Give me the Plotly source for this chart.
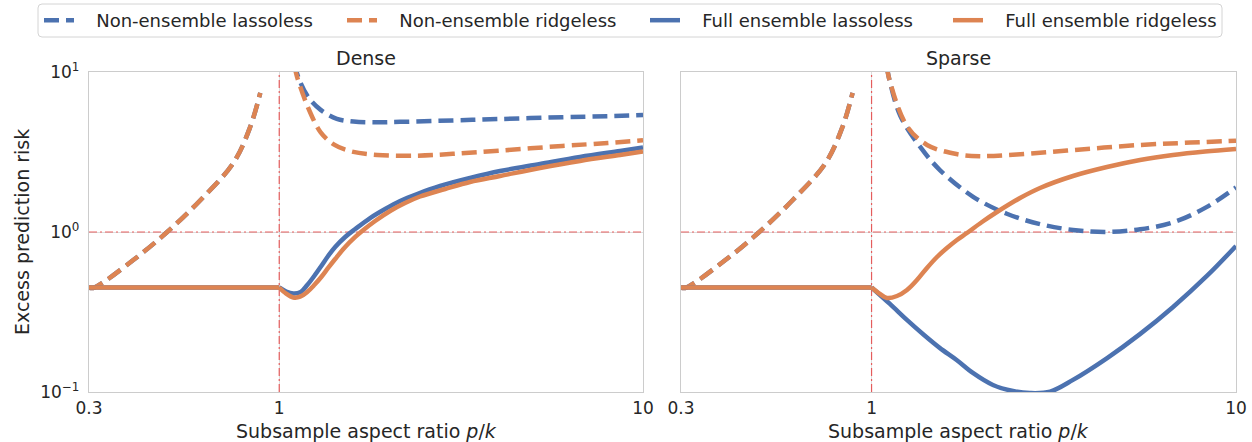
import math
import plotly.graph_objects as go
from plotly.subplots import make_subplots

# ---------------- data ----------------
# underparameterized branch (p/k < 1), identical in both panels
phi_under = [0.3, 0.308, 0.397, 0.492, 0.607, 0.748, 0.832, 0.887]
risk_nonens_under = [0.45, 0.447, 0.668, 1.0, 1.58, 2.7, 4.53, 7.4]
phi_flat = [0.3, 1.0]
risk_flat = [0.45, 0.45]

# Dense panel, p/k > 1
d_nl_phi = [1.1, 1.13, 1.2, 1.3, 1.44, 1.6, 1.8, 2.15, 3.0, 4.0, 6.0, 8.0, 10.0]
d_nl_risk = [11.5, 9.2, 7.0, 5.8, 5.1, 4.9, 4.85, 4.88, 4.98, 5.08, 5.22, 5.3, 5.38]
d_nr_phi = [1.1, 1.12, 1.156, 1.2, 1.3, 1.42, 1.57, 1.86, 2.4, 3.0, 4.0, 6.0, 8.0, 10.0]
d_nr_risk = [11.0, 9.3, 7.5, 6.0, 4.2, 3.5, 3.2, 3.03, 3.0, 3.08, 3.22, 3.45, 3.6, 3.74]
d_fl_phi = [1.0, 1.045, 1.093, 1.142, 1.194, 1.248, 1.305, 1.363, 1.425, 1.518, 1.618,
            1.778, 1.955, 2.15, 2.394, 2.769, 3.347, 4.047, 5.212, 6.713, 8.646, 10.0]
d_fl_risk = [0.45, 0.425, 0.413, 0.42, 0.466, 0.531, 0.613, 0.708, 0.806, 0.931, 1.044,
             1.223, 1.393, 1.563, 1.728, 1.939, 2.175, 2.404, 2.661, 2.944, 3.209, 3.374]
d_fr_phi = [1.0, 1.045, 1.093, 1.142, 1.194, 1.248, 1.305, 1.363, 1.425, 1.518, 1.618,
            1.69, 1.835, 2.018, 2.218, 2.439, 2.859, 3.347, 4.047, 5.212, 6.713, 8.646, 10.0]
d_fr_risk = [0.45, 0.412, 0.39, 0.394, 0.422, 0.466, 0.523, 0.596, 0.678, 0.806, 0.931,
             1.015, 1.172, 1.353, 1.518, 1.667, 1.857, 2.054, 2.239, 2.512, 2.78, 3.03, 3.186]

# Sparse panel, p/k > 1
s_nl_phi = [1.1, 1.12, 1.2, 1.36, 1.54, 1.9, 2.35, 2.9, 3.57, 4.42, 5.46, 6.73, 8.3, 10.0]
s_nl_risk = [11.0, 8.9, 5.3, 3.4, 2.44, 1.66, 1.30, 1.12, 1.03, 1.0, 1.04, 1.15, 1.43, 1.9]
s_nr_phi = [1.1, 1.12, 1.25, 1.42, 1.71, 1.98, 2.5, 3.57, 5.46, 7.5, 10.0]
s_nr_risk = [11.0, 8.9, 4.6, 3.5, 3.07, 2.98, 3.05, 3.25, 3.5, 3.62, 3.72]
s_fl_phi = [1.0, 1.123, 1.25, 1.393, 1.541, 1.715, 1.897, 2.153, 2.444, 2.72, 3.09,
            3.57, 4.43, 5.45, 6.72, 8.32, 10.0]
s_fl_risk = [0.45, 0.355, 0.282, 0.227, 0.188, 0.158, 0.1315, 0.1106, 0.1014, 0.0985, 0.1005,
             0.119, 0.163, 0.23, 0.34, 0.531, 0.818]
s_fr_phi = [1.0, 1.054, 1.102, 1.174, 1.251, 1.332, 1.419, 1.512, 1.61, 1.715, 1.827,
            2.009, 2.208, 2.555, 2.899, 3.571, 4.426, 5.453, 6.714, 8.222, 10.0]
s_fr_risk = [0.45, 0.41, 0.387, 0.398, 0.434, 0.501, 0.596, 0.698, 0.794, 0.891, 0.986,
             1.155, 1.334, 1.631, 1.884, 2.239, 2.547, 2.818, 3.03, 3.186, 3.303]

x_range = [0.3, 10.0]
x_ticks = [0.3, 1, 10]
x_ticktext = ["0.3", "1", "10"]
y_range = [0.1, 10.0]
y_ticks = [0.1, 1, 10]
y_ticktext = ["10<sup>\u22121</sup>", "10<sup>0</sup>", "10<sup>1</sup>"]
ref_level = 1.0
panel_titles = ["Dense", "Sparse"]
names = ["Non-ensemble lassoless", "Non-ensemble ridgeless",
         "Full ensemble lassoless", "Full ensemble ridgeless"]

BLUE = "#4c72b0"
ORANGE = "#dd8452"
REDLINE = "rgba(230,60,60,0.8)"
TXT = "#262626"
FONT = "DejaVu Sans"
DASH = "15px,7px"
LW = 4.5
SMOOTH = 1.0

fig = make_subplots(rows=1, cols=2, shared_yaxes=True)

panels = [
    (d_nl_phi, d_nl_risk, d_nr_phi, d_nr_risk, d_fl_phi, d_fl_risk, d_fr_phi, d_fr_risk),
    (s_nl_phi, s_nl_risk, s_nr_phi, s_nr_risk, s_fl_phi, s_fl_risk, s_fr_phi, s_fr_risk),
]

red_dash = "8px,3px,2px,3px"
for col, p in enumerate(panels, start=1):
    nl_x, nl_y, nr_x, nr_y, fl_x, fl_y, fr_x, fr_y = p
    show = col == 1
    # reference lines (drawn first so the curves lie above them)
    fig.add_trace(go.Scatter(x=x_range, y=[ref_level, ref_level], mode="lines",
                             showlegend=False, hoverinfo="skip",
                             line=dict(color=REDLINE, width=1.2, dash=red_dash)),
                  row=1, col=col)
    fig.add_trace(go.Scatter(x=[ref_level, ref_level], y=y_range, mode="lines",
                             showlegend=False, hoverinfo="skip",
                             line=dict(color=REDLINE, width=1.2, dash=red_dash)),
                  row=1, col=col)
    specs = [
        (phi_under, risk_nonens_under, nl_x, nl_y, BLUE, DASH, names[0]),
        (phi_under, risk_nonens_under, nr_x, nr_y, ORANGE, DASH, names[1]),
        (phi_flat, risk_flat, fl_x, fl_y, BLUE, "solid", names[2]),
        (phi_flat, risk_flat, fr_x, fr_y, ORANGE, "solid", names[3]),
    ]
    for ux, uy, xs, ys, c, dash, nm in specs:
        fig.add_trace(go.Scatter(
            x=ux, y=uy, mode="lines", name="\u00a0\u00a0\u00a0" + nm,
            showlegend=show, legendgroup=nm,
            line=dict(color=c, width=LW, dash=dash, shape="spline", smoothing=SMOOTH),
        ), row=1, col=col)
        fig.add_trace(go.Scatter(
            x=xs, y=ys, mode="lines", name=nm, showlegend=False, legendgroup=nm,
            line=dict(color=c, width=LW, dash=dash, shape="spline", smoothing=SMOOTH),
        ), row=1, col=col)

L, R, T, B = 89, 16, 72, 50
W, H = 1252, 442
pw = W - L - R
ph = H - T - B
d1 = (643 - L) / pw
d2 = (681 - L) / pw


def px_x(px):
    return (px - L) / pw


def px_y(py):
    return (H - B - py) / ph


fig.update_xaxes(
    type="log", range=[math.log10(x_range[0]), math.log10(x_range[1])],
    tickvals=x_ticks, ticktext=x_ticktext,
    showgrid=True, gridcolor="#dddddd", gridwidth=1, zeroline=False,
    showline=True, linecolor="#cccccc", linewidth=1.3, mirror=True,
    ticks="", tickfont=dict(family=FONT, size=17, color=TXT),
)
fig.update_layout(xaxis=dict(domain=[0, d1]), xaxis2=dict(domain=[d2, 1]))
fig.update_yaxes(
    type="log", range=[math.log10(y_range[0]), math.log10(y_range[1])],
    tickvals=y_ticks, ticktext=y_ticktext,
    showgrid=True, gridcolor="#dddddd", gridwidth=1, zeroline=False,
    showline=True, linecolor="#cccccc", linewidth=1.3, mirror=True,
    ticks="", tickfont=dict(family=FONT, size=17, color=TXT),
    ticklabelstandoff=5,
)
fig.update_yaxes(showticklabels=False, row=1, col=2)

ann = []
centers = [d1 / 2, (d2 + 1) / 2]
for c, t in zip(centers, panel_titles):
    ann.append(dict(xref="paper", yref="paper", x=c, y=px_y(58), text=t,
                    showarrow=False, xanchor="center", yanchor="middle",
                    font=dict(family=FONT, size=19, color=TXT)))
    ann.append(dict(xref="paper", yref="paper", x=c, y=px_y(431),
                    text="Subsample aspect ratio <i>p</i>/<i>k</i>",
                    showarrow=False, xanchor="center", yanchor="middle",
                    font=dict(family=FONT, size=19, color=TXT)))
ann.append(dict(xref="paper", yref="paper", x=px_x(22), y=px_y(232),
                text="Excess prediction risk", textangle=-90, showarrow=False,
                xanchor="center", yanchor="middle",
                font=dict(family=FONT, size=19, color=TXT)))

# rounded legend frame
x0, x1 = px_x(38), px_x(1222)
y0, y1 = px_y(37), px_y(4)
rx, ry = 4 / pw, 4 / ph
path = (f"M {x0+rx},{y0} L {x1-rx},{y0} Q {x1},{y0} {x1},{y0+ry} "
        f"L {x1},{y1-ry} Q {x1},{y1} {x1-rx},{y1} L {x0+rx},{y1} "
        f"Q {x0},{y1} {x0},{y1-ry} L {x0},{y0+ry} Q {x0},{y0} {x0+rx},{y0} Z")
shapes = [dict(type="path", xref="paper", yref="paper", path=path,
               line=dict(color="#d4d4d4", width=1), fillcolor="white", layer="below")]

fig.update_layout(
    width=W, height=H,
    margin=dict(l=L, r=R, t=T, b=B, autoexpand=False),
    paper_bgcolor="white", plot_bgcolor="white",
    font=dict(family=FONT, color=TXT),
    annotations=ann,
    shapes=shapes,
    legend=dict(
        orientation="h", x=px_x(39), y=px_y(2),
        xanchor="left", yanchor="top",
        borderwidth=0, bgcolor="rgba(0,0,0,0)",
        font=dict(family=FONT, size=18, color=TXT),
        entrywidth=258, entrywidthmode="pixels",
    ),
)

fig.write_html(
    "out.html",
    config={"displayModeBar": False},
    post_script="document.body.style.margin='0px';document.body.style.overflow='hidden';",
)
